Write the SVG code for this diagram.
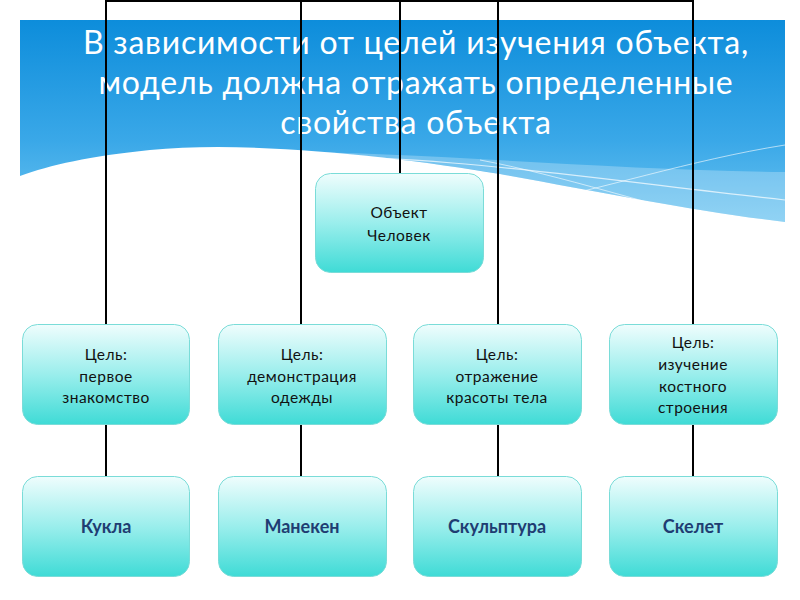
<svg xmlns="http://www.w3.org/2000/svg" width="800" height="600" viewBox="0 0 800 600">
<defs>
<linearGradient id="sky" x1="0" y1="0" x2="0" y2="1">
<stop offset="0" stop-color="#0d8ddb"/>
<stop offset="0.6" stop-color="#3aa8e8"/>
<stop offset="1" stop-color="#6cc4f0"/>
</linearGradient>
<linearGradient id="box" x1="0" y1="0" x2="0" y2="1">
<stop offset="0" stop-color="#effdfd"/>
<stop offset="0.5" stop-color="#9aeeec"/>
<stop offset="1" stop-color="#3fdbd6"/>
</linearGradient>
<style>
.node rect{fill:url(#box);stroke:#7adcd8;stroke-width:1}
.t{font-family:Lato,"Liberation Sans",sans-serif;font-size:15.5px;letter-spacing:0.5px;fill:#111;text-anchor:middle}
.b{font-family:Lato,"Liberation Sans",sans-serif;font-size:18px;font-weight:bold;fill:#1f3d72;text-anchor:middle}
.title{font-family:Lato,"Liberation Sans",sans-serif;font-size:32px;letter-spacing:0.75px;fill:#ffffff;text-anchor:middle}
#connectors path{fill:none;stroke:#000;stroke-width:2}
</style>
</defs>
<rect width="800" height="600" fill="#fff"/>
<g id="banner">
<path d="M20,20 H785 V222 C700,212 600,192 500,174 C400,157 250,140 150,150 C90,156 50,165 20,176 Z" fill="url(#sky)"/>
<path d="M250,152 C400,150 600,170 785,172 V222 C700,212 600,192 500,174 C400,157 320,150 250,152 Z" fill="#ffffff" opacity="0.25"/>
<path d="M255,158 C420,150 600,180 785,200" fill="none" stroke="#ffffff" stroke-width="1.2" opacity="0.7"/>
<path d="M480,160 C560,175 650,205 760,232" fill="none" stroke="#ffffff" stroke-width="1" opacity="0.6"/>
<path d="M520,205 C600,190 690,160 785,145" fill="none" stroke="#ffffff" stroke-width="1" opacity="0.6"/>
<text class="title" x="416" y="54">В зависимости от целей изучения объекта,</text>
<text class="title" x="416" y="94">модель должна отражать определенные</text>
<text class="title" x="416" y="134">свойства объекта</text>
</g>
<g id="connectors">
<path d="M400,173 V1"/>
<path d="M106,324 V1 H693 V324"/>
<path d="M301,1 V324"/>
<path d="M498,1 V324"/>
<path d="M106,425 V476"/>
<path d="M301,425 V476"/>
<path d="M498,425 V476"/>
<path d="M693,425 V476"/>
</g>
<g id="object" class="node">
<rect x="315.5" y="173.5" width="168" height="99" rx="15"/>
<text class="t" x="399" y="218">Объект</text>
<text class="t" x="399" y="241">Человек</text>
</g>
<g id="goal1" class="node">
<rect x="22.5" y="324.5" width="167" height="100" rx="15"/>
<text class="t" x="106" y="360">Цель:</text>
<text class="t" x="106" y="382">первое</text>
<text class="t" x="106" y="403">знакомство</text>
</g>
<g id="goal2" class="node">
<rect x="218.5" y="324.5" width="168" height="100" rx="15"/>
<text class="t" x="302" y="360">Цель:</text>
<text class="t" x="302" y="382">демонстрация</text>
<text class="t" x="302" y="403">одежды</text>
</g>
<g id="goal3" class="node">
<rect x="413.5" y="324.5" width="168" height="100" rx="15"/>
<text class="t" x="497" y="360">Цель:</text>
<text class="t" x="497" y="382">отражение</text>
<text class="t" x="497" y="403">красоты тела</text>
</g>
<g id="goal4" class="node">
<rect x="609.5" y="324.5" width="168" height="100" rx="15"/>
<text class="t" x="693" y="348">Цель:</text>
<text class="t" x="693" y="370">изучение</text>
<text class="t" x="693" y="392">костного</text>
<text class="t" x="693" y="413">строения</text>
</g>
<g id="model1" class="node">
<rect x="22.5" y="476.5" width="167" height="100" rx="15"/>
<text class="b" x="106" y="533">Кукла</text>
</g>
<g id="model2" class="node">
<rect x="218.5" y="476.5" width="168" height="100" rx="15"/>
<text class="b" x="302" y="533">Манекен</text>
</g>
<g id="model3" class="node">
<rect x="413.5" y="476.5" width="168" height="100" rx="15"/>
<text class="b" x="497" y="533">Скульптура</text>
</g>
<g id="model4" class="node">
<rect x="609.5" y="476.5" width="168" height="100" rx="15"/>
<text class="b" x="693" y="533">Скелет</text>
</g>
</svg>
